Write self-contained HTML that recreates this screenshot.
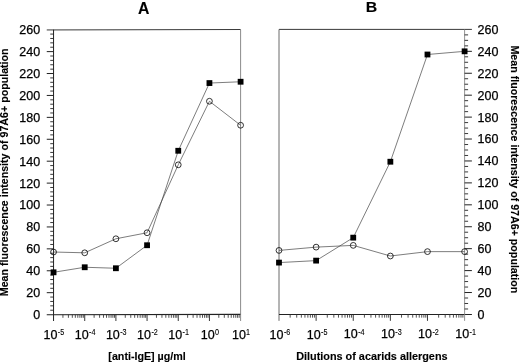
<!DOCTYPE html><html><head><meta charset="utf-8"><title>Figure</title>
<style>html,body{margin:0;padding:0;background:#fff;}svg{display:block;}text{font-family:"Liberation Sans",sans-serif;fill:#000;}.b{font-weight:bold;stroke:#000;stroke-width:0.12px;}.t{stroke:#000;stroke-width:0.25px;}.s{stroke:#000;stroke-width:0.12px;}</style></head><body>
<svg width="520" height="363" viewBox="0 0 520 363">
<rect width="520" height="363" fill="#fff"/>
<path d="M46.75 29.95L240.6 29.5" stroke="#222" stroke-width="0.9" fill="none"/>
<path d="M53.55 29.7V321.0" stroke="#222" stroke-width="1" fill="none"/>
<path d="M46.75 314.8L240.6 314.35" stroke="#222" stroke-width="1.1" fill="none"/>
<path d="M240.6 29.7V321.0" stroke="#666" stroke-width="0.75" fill="none"/>
<path d="M50.25 310.22H53.55M50.25 305.83H53.55M50.25 301.45H53.55M50.25 297.07H53.55M50.25 288.30H53.55M50.25 283.92H53.55M50.25 279.54H53.55M50.25 275.15H53.55M50.25 266.39H53.55M50.25 262.00H53.55M50.25 257.62H53.55M50.25 253.24H53.55M50.25 244.47H53.55M50.25 240.09H53.55M50.25 235.70H53.55M50.25 231.32H53.55M50.25 222.56H53.55M50.25 218.17H53.55M50.25 213.79H53.55M50.25 209.41H53.55M50.25 200.64H53.55M50.25 196.26H53.55M50.25 191.87H53.55M50.25 187.49H53.55M50.25 178.72H53.55M50.25 174.34H53.55M50.25 169.96H53.55M50.25 165.58H53.55M50.25 156.81H53.55M50.25 152.43H53.55M50.25 148.04H53.55M50.25 143.66H53.55M50.25 134.89H53.55M50.25 130.51H53.55M50.25 126.13H53.55M50.25 121.74H53.55M50.25 112.98H53.55M50.25 108.60H53.55M50.25 104.21H53.55M50.25 99.83H53.55M50.25 91.06H53.55M50.25 86.68H53.55M50.25 82.30H53.55M50.25 77.91H53.55M50.25 69.15H53.55M50.25 64.76H53.55M50.25 60.38H53.55M50.25 56.00H53.55M50.25 47.23H53.55M50.25 42.85H53.55M50.25 38.47H53.55M50.25 34.08H53.55" stroke="#222" stroke-width="0.9" fill="none"/>
<path d="M46.75 292.68H53.55M46.75 270.77H53.55M46.75 248.85H53.55M46.75 226.94H53.55M46.75 205.02H53.55M46.75 183.11H53.55M46.75 161.19H53.55M46.75 139.28H53.55M46.75 117.36H53.55M46.75 95.45H53.55M46.75 73.53H53.55M46.75 51.62H53.55" stroke="#222" stroke-width="1" fill="none"/>
<path d="M62.93 314.6V317.8M68.42 314.6V317.8M72.32 314.6V317.8M75.34 314.6V317.8M77.81 314.6V317.8M79.90 314.6V317.8M81.70 314.6V317.8M83.30 314.6V317.8M94.11 314.6V317.8M99.60 314.6V317.8M103.49 314.6V317.8M106.52 314.6V317.8M108.98 314.6V317.8M111.07 314.6V317.8M112.88 314.6V317.8M114.47 314.6V317.8M125.28 314.6V317.8M130.77 314.6V317.8M134.67 314.6V317.8M137.69 314.6V317.8M140.16 314.6V317.8M142.25 314.6V317.8M144.05 314.6V317.8M145.65 314.6V317.8M156.46 314.6V317.8M161.95 314.6V317.8M165.84 314.6V317.8M168.87 314.6V317.8M171.33 314.6V317.8M173.42 314.6V317.8M175.23 314.6V317.8M176.82 314.6V317.8M187.63 314.6V317.8M193.12 314.6V317.8M197.02 314.6V317.8M200.04 314.6V317.8M202.51 314.6V317.8M204.60 314.6V317.8M206.40 314.6V317.8M208.00 314.6V317.8M218.81 314.6V317.8M224.30 314.6V317.8M228.19 314.6V317.8M231.22 314.6V317.8M233.68 314.6V317.8M235.77 314.6V317.8M237.58 314.6V317.8M239.17 314.6V317.8" stroke="#333" stroke-width="0.85" fill="none"/>
<path d="M84.72 314.6V321.0M115.90 314.6V321.0M147.07 314.6V321.0M178.25 314.6V321.0M209.43 314.6V321.0" stroke="#222" stroke-width="0.9" fill="none"/>
<text class="t" x="40.15" y="319.05" font-size="12.5" text-anchor="end">0</text>
<text class="t" x="40.15" y="297.13" font-size="12.5" text-anchor="end">20</text>
<text class="t" x="40.15" y="275.22" font-size="12.5" text-anchor="end">40</text>
<text class="t" x="40.15" y="253.30" font-size="12.5" text-anchor="end">60</text>
<text class="t" x="40.15" y="231.39" font-size="12.5" text-anchor="end">80</text>
<text class="t" x="40.15" y="209.47" font-size="12.5" text-anchor="end">100</text>
<text class="t" x="40.15" y="187.56" font-size="12.5" text-anchor="end">120</text>
<text class="t" x="40.15" y="165.64" font-size="12.5" text-anchor="end">140</text>
<text class="t" x="40.15" y="143.73" font-size="12.5" text-anchor="end">160</text>
<text class="t" x="40.15" y="121.81" font-size="12.5" text-anchor="end">180</text>
<text class="t" x="40.15" y="99.90" font-size="12.5" text-anchor="end">200</text>
<text class="t" x="40.15" y="77.98" font-size="12.5" text-anchor="end">220</text>
<text class="t" x="40.15" y="56.07" font-size="12.5" text-anchor="end">240</text>
<text class="t" x="40.15" y="34.15" font-size="12.5" text-anchor="end">260</text>
<text class="t" x="43.55" y="338.85" font-size="12.5">10</text>
<text class="s" transform="translate(57.85,335.35) scale(0.82,1.0)" font-size="8.8">-5</text>
<text class="t" x="74.72" y="338.81" font-size="12.5">10</text>
<text class="s" transform="translate(89.02,335.31) scale(0.82,1.0)" font-size="8.8">-4</text>
<text class="t" x="105.90" y="338.77" font-size="12.5">10</text>
<text class="s" transform="translate(120.20,335.27) scale(0.82,1.0)" font-size="8.8">-3</text>
<text class="t" x="137.07" y="338.72" font-size="12.5">10</text>
<text class="s" transform="translate(151.38,335.22) scale(0.82,1.0)" font-size="8.8">-2</text>
<text class="t" x="168.25" y="338.68" font-size="12.5">10</text>
<text class="s" transform="translate(182.55,335.18) scale(0.82,1.0)" font-size="8.8">-1</text>
<text class="t" x="200.83" y="338.64" font-size="12.5">10</text>
<text class="s" transform="translate(214.93,335.14) scale(0.82,1.0)" font-size="8.8">0</text>
<text class="t" x="232.00" y="338.60" font-size="12.5">10</text>
<text class="s" transform="translate(246.10,335.10) scale(0.82,1.0)" font-size="8.8">1</text>
<path d="M53.55 252.03L84.72 252.80L115.90 238.77L147.07 232.75L178.25 164.81L209.43 101.25L240.60 125.25" stroke="#404040" stroke-width="0.68" fill="none"/>
<path d="M53.55 272.30L84.72 267.26L115.90 268.25L147.07 245.24L178.25 150.78L209.43 83.06L240.60 81.75" stroke="#404040" stroke-width="0.68" fill="none"/>
<circle cx="53.55" cy="252.03" r="2.9" stroke="#111" stroke-width="0.85" fill="none"/>
<circle cx="84.72" cy="252.80" r="2.9" stroke="#111" stroke-width="0.85" fill="none"/>
<circle cx="115.90" cy="238.77" r="2.9" stroke="#111" stroke-width="0.85" fill="none"/>
<circle cx="147.07" cy="232.75" r="2.9" stroke="#111" stroke-width="0.85" fill="none"/>
<circle cx="178.25" cy="164.81" r="2.9" stroke="#111" stroke-width="0.85" fill="none"/>
<circle cx="209.43" cy="101.25" r="2.9" stroke="#111" stroke-width="0.85" fill="none"/>
<circle cx="240.60" cy="125.25" r="2.9" stroke="#111" stroke-width="0.85" fill="none"/>
<rect x="50.65" y="269.40" width="5.8" height="5.8" fill="#000"/>
<rect x="81.82" y="264.36" width="5.8" height="5.8" fill="#000"/>
<rect x="113.00" y="265.35" width="5.8" height="5.8" fill="#000"/>
<rect x="144.17" y="242.34" width="5.8" height="5.8" fill="#000"/>
<rect x="175.35" y="147.88" width="5.8" height="5.8" fill="#000"/>
<rect x="206.53" y="80.16" width="5.8" height="5.8" fill="#000"/>
<rect x="237.70" y="78.85" width="5.8" height="5.8" fill="#000"/>
<path d="M279.0 29.4H471.90000000000003" stroke="#222" stroke-width="0.9" fill="none"/>
<path d="M279.0 29.4V320.84999999999997" stroke="#6a6a6a" stroke-width="1.0" fill="none"/>
<path d="M279.0 314.45H471.90000000000003" stroke="#222" stroke-width="1.1" fill="none"/>
<path d="M464.6 29.4V320.84999999999997" stroke="#808080" stroke-width="0.85" fill="none"/>
<path d="M464.6 308.97H468.1M464.6 303.49H468.1M464.6 298.00H468.1M464.6 287.04H468.1M464.6 281.56H468.1M464.6 276.08H468.1M464.6 265.11H468.1M464.6 259.63H468.1M464.6 254.15H468.1M464.6 243.19H468.1M464.6 237.71H468.1M464.6 232.22H468.1M464.6 221.26H468.1M464.6 215.78H468.1M464.6 210.30H468.1M464.6 199.33H468.1M464.6 193.85H468.1M464.6 188.37H468.1M464.6 177.41H468.1M464.6 171.92H468.1M464.6 166.44H468.1M464.6 155.48H468.1M464.6 150.00H468.1M464.6 144.52H468.1M464.6 133.55H468.1M464.6 128.07H468.1M464.6 122.59H468.1M464.6 111.63H468.1M464.6 106.14H468.1M464.6 100.66H468.1M464.6 89.70H468.1M464.6 84.22H468.1M464.6 78.74H468.1M464.6 67.77H468.1M464.6 62.29H468.1M464.6 56.81H468.1M464.6 45.85H468.1M464.6 40.36H468.1M464.6 34.88H468.1" stroke="#222" stroke-width="0.9" fill="none"/>
<path d="M464.6 292.52H471.90000000000003M464.6 270.60H471.90000000000003M464.6 248.67H471.90000000000003M464.6 226.74H471.90000000000003M464.6 204.82H471.90000000000003M464.6 182.89H471.90000000000003M464.6 160.96H471.90000000000003M464.6 139.03H471.90000000000003M464.6 117.11H471.90000000000003M464.6 95.18H471.90000000000003M464.6 73.25H471.90000000000003M464.6 51.33H471.90000000000003" stroke="#222" stroke-width="1" fill="none"/>
<path d="M290.17 314.45V317.65M296.71 314.45V317.65M301.35 314.45V317.65M304.95 314.45V317.65M307.88 314.45V317.65M310.37 314.45V317.65M312.52 314.45V317.65M314.42 314.45V317.65M327.29 314.45V317.65M333.83 314.45V317.65M338.47 314.45V317.65M342.07 314.45V317.65M345.00 314.45V317.65M347.49 314.45V317.65M349.64 314.45V317.65M351.54 314.45V317.65M364.41 314.45V317.65M370.95 314.45V317.65M375.59 314.45V317.65M379.19 314.45V317.65M382.12 314.45V317.65M384.61 314.45V317.65M386.76 314.45V317.65M388.66 314.45V317.65M401.53 314.45V317.65M408.07 314.45V317.65M412.71 314.45V317.65M416.31 314.45V317.65M419.24 314.45V317.65M421.73 314.45V317.65M423.88 314.45V317.65M425.78 314.45V317.65M438.65 314.45V317.65M445.19 314.45V317.65M449.83 314.45V317.65M453.43 314.45V317.65M456.36 314.45V317.65M458.85 314.45V317.65M461.00 314.45V317.65M462.90 314.45V317.65" stroke="#333" stroke-width="0.85" fill="none"/>
<path d="M316.12 314.45V320.84999999999997M353.24 314.45V320.84999999999997M390.36 314.45V320.84999999999997M427.48 314.45V320.84999999999997" stroke="#222" stroke-width="0.9" fill="none"/>
<text class="t" x="477.6" y="318.90" font-size="12.5">0</text>
<text class="t" x="477.6" y="296.97" font-size="12.5">20</text>
<text class="t" x="477.6" y="275.05" font-size="12.5">40</text>
<text class="t" x="477.6" y="253.12" font-size="12.5">60</text>
<text class="t" x="477.6" y="231.19" font-size="12.5">80</text>
<text class="t" x="477.6" y="209.27" font-size="12.5">100</text>
<text class="t" x="477.6" y="187.34" font-size="12.5">120</text>
<text class="t" x="477.6" y="165.41" font-size="12.5">140</text>
<text class="t" x="477.6" y="143.48" font-size="12.5">160</text>
<text class="t" x="477.6" y="121.56" font-size="12.5">180</text>
<text class="t" x="477.6" y="99.63" font-size="12.5">200</text>
<text class="t" x="477.6" y="77.70" font-size="12.5">220</text>
<text class="t" x="477.6" y="55.78" font-size="12.5">240</text>
<text class="t" x="477.6" y="33.85" font-size="12.5">260</text>
<text class="t" x="269.60" y="338.55" font-size="12.5">10</text>
<text class="s" transform="translate(283.90,335.05) scale(0.82,1.0)" font-size="8.8">-6</text>
<text class="t" x="306.72" y="338.50" font-size="12.5">10</text>
<text class="s" transform="translate(321.02,335.00) scale(0.82,1.0)" font-size="8.8">-5</text>
<text class="t" x="343.84" y="338.45" font-size="12.5">10</text>
<text class="s" transform="translate(358.14,334.95) scale(0.82,1.0)" font-size="8.8">-4</text>
<text class="t" x="380.96" y="338.40" font-size="12.5">10</text>
<text class="s" transform="translate(395.26,334.90) scale(0.82,1.0)" font-size="8.8">-3</text>
<text class="t" x="418.08" y="338.35" font-size="12.5">10</text>
<text class="s" transform="translate(432.38,334.85) scale(0.82,1.0)" font-size="8.8">-2</text>
<text class="t" x="455.20" y="338.30" font-size="12.5">10</text>
<text class="s" transform="translate(469.50,334.80) scale(0.82,1.0)" font-size="8.8">-1</text>
<path d="M279.00 250.42L316.12 247.13L353.24 245.38L390.36 256.01L427.48 251.63L464.60 251.63" stroke="#404040" stroke-width="0.68" fill="none"/>
<path d="M279.00 262.59L316.12 260.62L353.24 237.65L390.36 161.73L427.48 54.51L464.60 51.33" stroke="#404040" stroke-width="0.68" fill="none"/>
<circle cx="279.00" cy="250.42" r="2.9" stroke="#111" stroke-width="0.85" fill="none"/>
<circle cx="316.12" cy="247.13" r="2.9" stroke="#111" stroke-width="0.85" fill="none"/>
<circle cx="353.24" cy="245.38" r="2.9" stroke="#111" stroke-width="0.85" fill="none"/>
<circle cx="390.36" cy="256.01" r="2.9" stroke="#111" stroke-width="0.85" fill="none"/>
<circle cx="427.48" cy="251.63" r="2.9" stroke="#111" stroke-width="0.85" fill="none"/>
<circle cx="464.60" cy="251.63" r="2.9" stroke="#111" stroke-width="0.85" fill="none"/>
<rect x="276.10" y="259.69" width="5.8" height="5.8" fill="#000"/>
<rect x="313.22" y="257.72" width="5.8" height="5.8" fill="#000"/>
<rect x="350.34" y="234.75" width="5.8" height="5.8" fill="#000"/>
<rect x="387.46" y="158.83" width="5.8" height="5.8" fill="#000"/>
<rect x="424.58" y="51.61" width="5.8" height="5.8" fill="#000"/>
<rect x="461.70" y="48.43" width="5.8" height="5.8" fill="#000"/>
<text class="b" x="143.7" y="13.8" font-size="15.8" text-anchor="middle">A</text>
<text class="b" transform="translate(371.4,12.2) scale(1.06,1)" font-size="15.0" text-anchor="middle">B</text>
<text class="b" x="147.05" y="359.8" font-size="10.7" text-anchor="middle">[anti-IgE] µg/ml</text>
<text class="b" transform="translate(371.85,359.5) scale(1.045,1)" font-size="10.4" text-anchor="middle">Dilutions of acarids allergens</text>
<text class="b" transform="translate(8.4,172.3) rotate(-90)" font-size="10.67" text-anchor="middle">Mean fluorescence intensity of 97A6+ population</text>
<text class="b" transform="translate(511.1,169.4) rotate(90)" font-size="10.67" text-anchor="middle">Mean fluorescence intensity of 97A6+ population</text>
</svg></body></html>
